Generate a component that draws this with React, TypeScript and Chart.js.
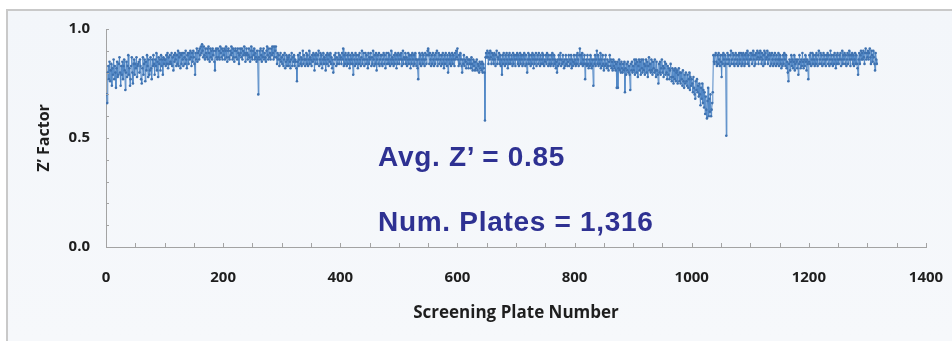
import React, { useEffect, useRef } from "react";
import { Chart, registerables } from "chart.js";

Chart.register(...registerables);

// ---- axis ticks ----
const X_TICK_LABELS = [0, 200, 400, 600, 800, 1000, 1200, 1400];
const Y_TICK_LABELS = [0.0, 0.5, 1.0];
const X_MINOR_STEP = 50;
const Y_MINOR_STEP = 0.1;

// ---- Z' factor per screening plate (in hundredths), plates 1..1316 ----
const zPlates0001to0100 = [
  70, 66, 80, 83, 77, 85, 76, 81, 84, 74,
  82, 79, 86, 77, 83, 80, 73, 82, 85, 78,
  79, 84, 87, 80, 74, 83, 79, 85, 77, 83,
  86, 81, 72, 80, 85, 78, 83, 88, 79, 82,
  74, 77, 83, 87, 80, 75, 84, 86, 79, 84,
  82, 87, 78, 83, 84, 85, 80, 86, 83, 77,
  75, 82, 87, 79, 84, 86, 76, 85, 81, 88,
  83, 78, 86, 79, 81, 87, 82, 77, 86, 83,
  88, 84, 79, 86, 83, 89, 81, 85, 78, 87,
  84, 86, 81, 88, 83, 86, 79, 87, 84, 86,
];
const zPlates0101to0200 = [
  86, 83, 88, 84, 89, 82, 87, 84, 88, 85,
  84, 89, 83, 87, 81, 88, 85, 89, 86, 83,
  88, 84, 90, 83, 87, 89, 82, 88, 84, 89,
  86, 83, 89, 87, 84, 90, 86, 82, 88, 89,
  84, 89, 86, 90, 87, 83, 89, 85, 90, 87,
  84, 79, 89, 86, 91, 85, 89, 90, 86, 91,
  88, 92, 89, 93, 90, 87, 92, 88, 86, 91,
  89, 87, 91, 86, 92, 89, 85, 91, 87, 90,
  86, 91, 88, 90, 85, 81, 90, 91, 87, 86,
  91, 87, 90, 86, 92, 89, 87, 91, 86, 90,
];
const zPlates0201to0300 = [
  88, 91, 86, 90, 92, 87, 85, 90, 91, 87,
  86, 90, 88, 92, 89, 86, 91, 87, 85, 90,
  91, 87, 90, 86, 91, 89, 84, 88, 91, 89,
  87, 91, 86, 90, 88, 92, 89, 85, 88, 91,
  89, 86, 88, 91, 87, 85, 90, 92, 87, 86,
  90, 88, 91, 86, 89, 87, 85, 90, 86, 70,
  87, 90, 86, 91, 88, 85, 90, 87, 91, 86,
  89, 87, 85, 90, 92, 88, 86, 91, 87, 89,
  86, 91, 88, 92, 89, 86, 92, 87, 90, 92,
  87, 84, 89, 86, 88, 83, 86, 89, 85, 87,
];
const zPlates0301to0400 = [
  84, 88, 83, 86, 89, 82, 85, 88, 83, 86,
  87, 83, 88, 85, 82, 86, 89, 83, 87, 85,
  88, 83, 86, 85, 82, 76, 85, 88, 83, 86,
  89, 84, 87, 83, 86, 90, 84, 88, 86, 83,
  86, 89, 84, 88, 83, 86, 90, 84, 87, 86,
  83, 88, 85, 89, 86, 81, 88, 84, 89, 86,
  84, 88, 90, 83, 86, 89, 84, 88, 82, 86,
  89, 84, 87, 86, 81, 88, 84, 89, 86, 83,
  88, 85, 89, 84, 87, 82, 86, 80, 84, 88,
  86, 89, 83, 87, 84, 86, 89, 84, 88, 86,
];
const zPlates0401to0500 = [
  87, 84, 89, 86, 91, 83, 88, 84, 89, 86,
  83, 88, 84, 89, 86, 82, 88, 84, 86, 89,
  84, 79, 88, 86, 83, 89, 84, 88, 86, 82,
  88, 84, 89, 86, 83, 87, 90, 84, 86, 89,
  83, 86, 89, 84, 88, 86, 82, 89, 84, 87,
  86, 89, 83, 87, 84, 90, 86, 83, 88, 84,
  89, 81, 86, 88, 84, 89, 83, 86, 88, 84,
  88, 83, 86, 89, 84, 88, 82, 86, 89, 84,
  86, 89, 84, 88, 83, 86, 90, 84, 87, 86,
  83, 88, 84, 89, 86, 82, 88, 84, 89, 86,
];
const zPlates0501to0600 = [
  84, 88, 86, 89, 83, 86, 90, 84, 87, 86,
  89, 84, 87, 83, 86, 89, 84, 88, 86, 82,
  88, 84, 89, 86, 83, 88, 84, 89, 86, 83,
  86, 82, 77, 86, 89, 84, 88, 83, 86, 89,
  84, 88, 86, 83, 89, 86, 84, 88, 90, 91,
  88, 84, 89, 86, 83, 88, 84, 89, 86, 83,
  88, 84, 89, 86, 90, 83, 86, 89, 84, 88,
  86, 83, 88, 84, 89, 86, 82, 88, 84, 89,
  86, 83, 88, 80, 86, 89, 84, 88, 83, 86,
  89, 84, 88, 86, 83, 89, 86, 90, 87, 91,
];
const zPlates0601to0700 = [
  86, 83, 88, 84, 89, 86, 83, 80, 86, 84,
  88, 83, 86, 85, 82, 87, 84, 86, 82, 86,
  84, 86, 82, 87, 84, 81, 86, 83, 85, 81,
  85, 82, 86, 81, 84, 83, 80, 85, 82, 84,
  81, 85, 80, 84, 82, 80, 58, 87, 89, 87,
  90, 87, 84, 89, 86, 90, 87, 84, 89, 86,
  88, 84, 89, 86, 83, 88, 90, 84, 87, 86,
  89, 84, 88, 83, 86, 79, 88, 84, 89, 86,
  83, 88, 84, 89, 86, 82, 88, 84, 89, 86,
  84, 88, 86, 83, 89, 84, 88, 86, 83, 88,
];
const zPlates0701to0800 = [
  86, 89, 84, 88, 83, 86, 89, 84, 88, 86,
  83, 88, 84, 89, 86, 83, 88, 84, 80, 86,
  89, 84, 88, 86, 83, 88, 84, 89, 86, 82,
  88, 84, 86, 89, 83, 86, 88, 84, 89, 86,
  83, 88, 84, 86, 89, 84, 88, 83, 86, 85,
  88, 84, 89, 86, 83, 88, 84, 86, 83, 88,
  84, 89, 86, 83, 88, 84, 86, 82, 85, 80,
  86, 83, 88, 84, 86, 89, 83, 86, 84, 88,
  85, 82, 86, 83, 88, 84, 86, 83, 85, 88,
  83, 86, 84, 88, 82, 86, 83, 85, 88, 84,
];
const zPlates0801to0900 = [
  86, 83, 88, 84, 89, 86, 83, 88, 91, 84,
  88, 84, 89, 83, 86, 84, 88, 77, 84, 86,
  83, 88, 84, 82, 86, 83, 88, 84, 82, 86,
  83, 74, 86, 84, 88, 83, 86, 90, 84, 88,
  83, 86, 84, 89, 82, 86, 83, 88, 84, 81,
  86, 83, 88, 84, 82, 86, 83, 81, 85, 88,
  83, 86, 82, 85, 81, 86, 83, 82, 85, 81,
  84, 73, 85, 73, 82, 86, 81, 84, 80, 85,
  82, 80, 84, 81, 85, 71, 82, 79, 84, 81,
  85, 80, 83, 79, 72, 84, 81, 85, 80, 83,
];
const zPlates0901to1000 = [
  81, 86, 79, 84, 86, 80, 85, 78, 83, 86,
  81, 85, 79, 86, 82, 80, 86, 81, 84, 79,
  83, 86, 80, 85, 78, 83, 87, 81, 84, 80,
  86, 81, 79, 85, 82, 80, 86, 81, 78, 85,
  81, 79, 75, 84, 80, 85, 79, 82, 86, 80,
  83, 78, 82, 85, 79, 84, 80, 77, 83, 79,
  82, 77, 81, 84, 78, 76, 82, 78, 75, 81,
  77, 82, 76, 80, 81, 75, 79, 82, 76, 80,
  75, 80, 77, 74, 81, 76, 73, 79, 75, 80,
  76, 74, 79, 73, 77, 80, 72, 78, 74, 77,
];
const zPlates1001to1100 = [
  75, 71, 78, 73, 70, 68, 76, 72, 77, 71,
  74, 69, 75, 70, 65, 73, 68, 75, 66, 72,
  64, 71, 61, 69, 63, 59, 67, 73, 60, 68,
  62, 70, 60, 63, 66, 71, 88, 85, 84, 88,
  89, 85, 83, 88, 84, 89, 86, 83, 88, 85,
  78, 88, 84, 89, 86, 83, 88, 84, 51, 86,
  89, 84, 88, 86, 83, 88, 90, 84, 86, 89,
  84, 88, 83, 86, 89, 84, 88, 86, 83, 88,
  89, 84, 86, 89, 83, 88, 84, 89, 86, 83,
  88, 84, 89, 86, 90, 84, 88, 83, 86, 89,
];
const zPlates1101to1200 = [
  86, 89, 84, 88, 90, 86, 83, 88, 84, 89,
  86, 90, 87, 84, 89, 86, 90, 87, 84, 89,
  86, 83, 88, 90, 84, 89, 86, 87, 90, 84,
  88, 86, 89, 83, 88, 84, 89, 86, 83, 88,
  84, 89, 86, 83, 88, 84, 86, 89, 83, 86,
  88, 84, 82, 86, 83, 88, 84, 89, 86, 83,
  88, 82, 85, 80, 76, 84, 86, 81, 85, 88,
  83, 86, 82, 85, 88, 81, 84, 86, 85, 82,
  86, 79, 84, 88, 85, 82, 86, 83, 89, 85,
  82, 86, 83, 88, 85, 81, 86, 84, 77, 85,
];
const zPlates1201to1300 = [
  88, 84, 89, 83, 86, 89, 84, 88, 86, 83,
  88, 84, 89, 86, 83, 88, 90, 84, 86, 89,
  84, 88, 83, 86, 89, 84, 88, 86, 83, 88,
  86, 89, 84, 88, 83, 86, 90, 84, 88, 86,
  83, 88, 84, 89, 86, 82, 88, 84, 89, 86,
  84, 88, 86, 89, 83, 86, 90, 84, 88, 86,
  89, 84, 88, 83, 86, 89, 84, 88, 90, 86,
  83, 88, 86, 89, 84, 88, 83, 86, 89, 84,
  88, 84, 82, 79, 86, 89, 84, 88, 90, 86,
  89, 86, 90, 87, 84, 89, 91, 86, 89, 87,
];
const zPlates1301to1316 = [90, 86, 89, 91, 87, 84, 90, 88, 85, 90, 87, 84, 81, 89, 86, 84];

const Z_SEGMENTS = [
  zPlates0001to0100, zPlates0101to0200, zPlates0201to0300, zPlates0301to0400,
  zPlates0401to0500, zPlates0501to0600, zPlates0601to0700, zPlates0701to0800,
  zPlates0801to0900, zPlates0901to1000, zPlates1001to1100, zPlates1101to1200,
  zPlates1201to1300, zPlates1301to1316,
];

const AVG_TEXT = "Avg. Z\u2019 = 0.85";
const NUM_TEXT = "Num. Plates = 1,316";
const X_TITLE = "Screening Plate Number";
const Y_TITLE = "Z\u2019 Factor";

const AXIS_COLOR = "#a3a3a3";
const LABEL_COLOR = "#1e1e1e";
const LINE_COLOR = "#5288c6";
const POINT_COLOR = "#3f72b0";
const NOTE_COLOR = "#2e3192";
const TICK_FONT = "'Open Sans'";

const innerTicks = {
  id: "innerTicks",
  afterDraw(chart: any) {
    const { ctx, chartArea, scales } = chart;
    const x = scales.x;
    const y = scales.y;
    ctx.save();
    ctx.strokeStyle = AXIS_COLOR;
    ctx.lineWidth = 1;
    ctx.beginPath();
    const xMax = X_TICK_LABELS[X_TICK_LABELS.length - 1];
    for (let v = X_MINOR_STEP; v <= xMax + 0.001; v += X_MINOR_STEP) {
      const px = Math.round(x.getPixelForValue(v)) + 0.5;
      ctx.moveTo(px, chartArea.bottom);
      ctx.lineTo(px, chartArea.bottom - 4);
    }
    const yMax = Y_TICK_LABELS[Y_TICK_LABELS.length - 1];
    for (let k = 1; k * Y_MINOR_STEP <= yMax + 0.0001; k++) {
      const py = Math.round(y.getPixelForValue(k * Y_MINOR_STEP)) + 0.5;
      ctx.moveTo(chartArea.left, py);
      ctx.lineTo(chartArea.left + 3, py);
    }
    ctx.stroke();
    ctx.restore();
  },
};

export default function App() {
  const canvasRef = useRef<HTMLCanvasElement | null>(null);

  useEffect(() => {
    const canvas = canvasRef.current;
    if (!canvas) return;
    const values = Z_SEGMENTS.flat().map((v) => v / 100);
    const points = values.map((v, i) => ({ x: i + 1, y: v }));

    const chart = new Chart(canvas, {
      type: "line",
      data: {
        datasets: [
          {
            data: points,
            borderColor: LINE_COLOR,
            borderWidth: 1,
            pointRadius: 1.3,
            pointBorderWidth: 0,
            pointBackgroundColor: POINT_COLOR,
            tension: 0,
          },
        ],
      },
      options: {
        animation: false,
        responsive: false,
        maintainAspectRatio: false,
        devicePixelRatio: 1,
        layout: { padding: { left: 0, right: 26, top: 29, bottom: 0 } },
        plugins: { legend: { display: false }, tooltip: { enabled: false } },
        scales: {
          x: {
            type: "linear",
            min: X_TICK_LABELS[0],
            max: X_TICK_LABELS[X_TICK_LABELS.length - 1],
            afterFit: (s: any) => {
              s.height = 94;
            },
            afterBuildTicks: (s: any) => {
              s.ticks = X_TICK_LABELS.map((v) => ({ value: v }));
            },
            grid: {
              display: true,
              drawOnChartArea: false,
              drawTicks: true,
              tickLength: 20,
              tickColor: "rgba(0,0,0,0)",
            },
            border: { display: true, color: AXIS_COLOR, width: 1 },
            ticks: {
              autoSkip: false,
              maxRotation: 0,
              padding: 2,
              color: LABEL_COLOR,
              font: { family: TICK_FONT, size: 15, weight: "bold" },
              callback: (v: any) => String(v),
            },
            title: {
              display: true,
              text: X_TITLE,
              color: LABEL_COLOR,
              font: { family: TICK_FONT, size: 17, weight: "bold" },
              padding: { top: 0, bottom: 18 },
            },
          },
          y: {
            type: "linear",
            min: Y_TICK_LABELS[0],
            max: Y_TICK_LABELS[Y_TICK_LABELS.length - 1],
            afterFit: (s: any) => {
              s.width = 106;
            },
            afterBuildTicks: (s: any) => {
              s.ticks = Y_TICK_LABELS.map((v) => ({ value: v }));
            },
            grid: { display: true, drawOnChartArea: false, drawTicks: false },
            border: { display: true, color: AXIS_COLOR, width: 1 },
            ticks: {
              padding: 16,
              color: LABEL_COLOR,
              font: { family: TICK_FONT, size: 15, weight: "bold" },
              callback: (v: any) => Number(v).toFixed(1),
            },
            title: {
              display: true,
              text: Y_TITLE,
              color: LABEL_COLOR,
              font: { family: TICK_FONT, size: 16, weight: "bold" },
              padding: { top: 35, bottom: 0 },
            },
          },
        },
      },
      plugins: [innerTicks],
    });
    return () => chart.destroy();
  }, []);

  const noteStyle: React.CSSProperties = {
    position: "absolute",
    left: 378,
    fontFamily: "'Liberation Sans', Arial, sans-serif",
    fontWeight: "bold",
    fontSize: 28,
    lineHeight: "28px",
    letterSpacing: "0.7px",
    color: NOTE_COLOR,
    whiteSpace: "nowrap",
  };

  return (
    <div
      style={{
        position: "fixed",
        left: 0,
        top: 0,
        width: 952,
        height: 341,
        background: "#ffffff",
        overflow: "hidden",
      }}
    >
      <div
        style={{
          position: "absolute",
          left: 6,
          top: 9,
          width: 946,
          height: 332,
          background: "linear-gradient(180deg, #f3f6fa 0%, #f6f8fb 100%)",
          borderLeft: "2px solid #c9c9c9",
          borderTop: "2px solid #c9c9c9",
          boxSizing: "border-box",
        }}
      />
      <canvas
        ref={canvasRef}
        width={952}
        height={341}
        style={{ position: "absolute", left: 0, top: 0, width: 952, height: 341 }}
      />
      <div style={{ ...noteStyle, top: 143 }}>{AVG_TEXT}</div>
      <div style={{ ...noteStyle, top: 208 }}>{NUM_TEXT}</div>
    </div>
  );
}
